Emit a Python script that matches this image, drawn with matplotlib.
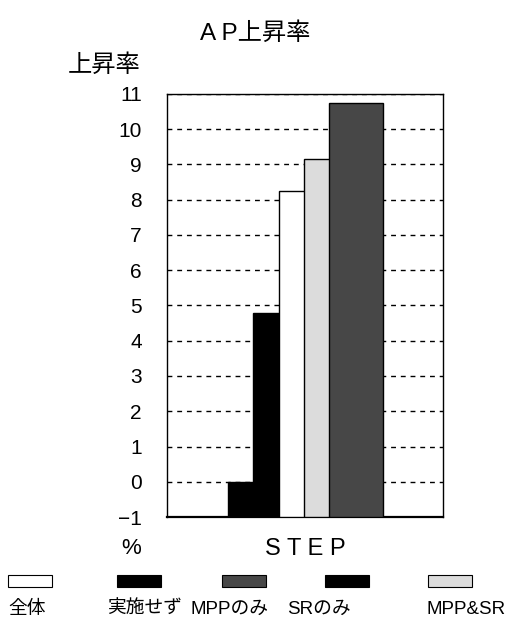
import numpy as np
import matplotlib.pyplot as plt
from matplotlib.patches import Rectangle

plt.rcParams['font.family'] = ['Liberation Sans', 'Noto Sans CJK JP']

# AP上昇率 (%) per group
groups = ['全体', '実施せず', 'MPPのみ', 'SRのみ', 'MPP&SR']
rise = [8.25, 0.0, 10.75, 4.8, 9.15]
colors = ['white', 'black', '#474747', 'black', '#dcdcdc']
yticks = list(range(-1, 12))

fig = plt.figure(figsize=(5.31, 6.42), dpi=100)
ax = fig.add_axes([0.3145, 0.1947, 0.5198, 0.6589])

# bars overlap, drawn from smallest to largest, each shifted right
order = np.argsort(rise)
step = 1.0
width = 2.13
base = -1
for k, i in enumerate(order):
    ax.bar(k * step, rise[i] - base, bottom=base, width=width,
           color=colors[i], edgecolor='black', linewidth=1.0, zorder=3 + k)

ax.set_ylim(-1, 11)
ax.set_xlim(-3.48, 7.43)
ax.set_yticks(yticks)
ax.set_yticklabels([str(v).replace('-', '−') for v in yticks], fontsize=15)
ax.tick_params(axis='y', length=0, pad=18)
ax.set_xticks([(len(rise) - 1) * step / 2])
ax.set_xticklabels(['S T E P'], fontsize=17)
ax.tick_params(axis='x', length=0, pad=15)
ax.yaxis.grid(True, color='black', linestyle=(0, (3.5, 3.5)), linewidth=1.0)
ax.set_axisbelow(True)
for s in ax.spines.values():
    s.set_linewidth(1.0)
ax.spines['bottom'].set_linewidth(1.6)

fig.text(0.48, 0.948, 'A P上昇率', ha='center', va='center', fontsize=17.5)
fig.text(0.128, 0.898, '上昇率', ha='left', va='center', fontsize=17.5)
fig.text(0.228, 0.146, '%', ha='left', va='center', fontsize=16)

# legend row below the chart
leg_patch_x = [8, 117, 222, 325, 428]
leg_text_x = [8, 107, 191, 287, 427]
for g, c, px, tx in zip(groups, colors, leg_patch_x, leg_text_x):
    fig.patches.append(Rectangle((px / 531, 1 - 587 / 642), 44 / 531, 12 / 642,
                                 transform=fig.transFigure, facecolor=c,
                                 edgecolor='black', linewidth=0.8))
    fig.text(tx / 531, 1 - 609 / 642, g, ha='left', va='center', fontsize=13.5)

fig.savefig('out.png', dpi=100)
